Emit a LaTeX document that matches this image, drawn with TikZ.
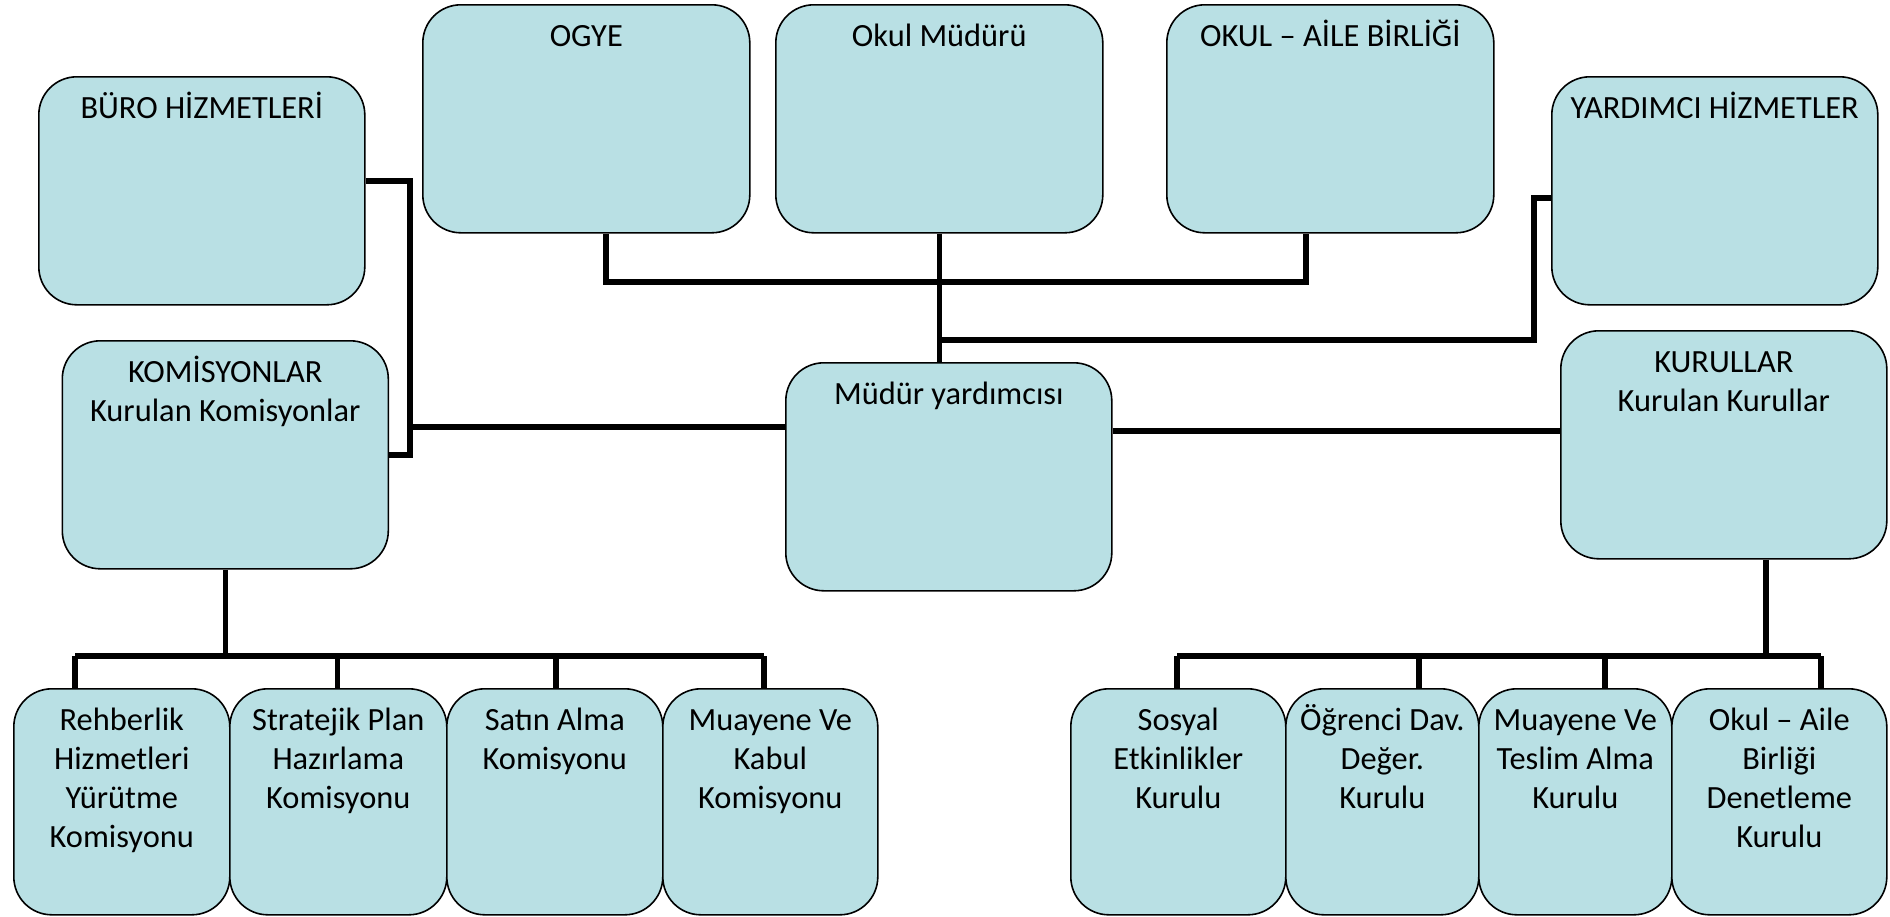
\documentclass[tikz,border=0pt]{standalone}
\usepackage{fontspec}
\setmainfont{Carlito}
\definecolor{boxblue}{RGB}{185,224,228}

\tikzset{
  unit/.style={draw=black, line width=0.8pt, fill=boxblue, rounded corners=19pt,
    anchor=north west, inner sep=0pt},
  wide/.style={unit, minimum width=163pt, minimum height=114pt},
  toptext/.style={anchor=north, yshift=-7.5pt, inner sep=0pt, align=center,
    font=\fontsize{16.2}{19.5}\selectfont},
  uptext/.style={label={[toptext]north:\strut #1}},
  link/.style={line width=2.7pt}
}

\begin{document}
\begin{tikzpicture}[x=0.5pt, y=-0.5pt]
  \useasboundingbox (0,0) rectangle (1890,916);

  % upper row
  \node[wide, uptext={BÜRO HİZMETLERİ}] (buro) at (38,76) {};
  \node[wide, minimum width=163.5pt, uptext={OGYE}] (ogye) at (422,4) {};
  \node[wide, minimum width=163.5pt, uptext={Okul Müdürü}] (mudur) at (775,4) {};
  \node[wide, minimum width=163.5pt, uptext={OKUL – AİLE BİRLİĞİ}] (aile) at (1166,4) {};
  \node[wide, uptext={YARDIMCI HİZMETLER}] (yard) at (1551,76) {};

  % middle row
  \node[wide, uptext={KOMİSYONLAR\\Kurulan Komisyonlar}] (komis) at (61.5,340) {};
  \node[wide, uptext={Müdür yardımcısı}] (mudy) at (785,362) {};
  \node[wide, uptext={KURULLAR\\Kurulan Kurullar}] (kurul) at (1560,330) {};

  % komisyonlar
  \node[unit, minimum width=108pt, minimum height=113pt,
    uptext={Rehberlik\\Hizmetleri\\Yürütme\\Komisyonu}] (rehber) at (13,688) {};
  \node[unit, minimum width=108.5pt, minimum height=113pt,
    uptext={Stratejik Plan\\Hazırlama\\Komisyonu}] (strat) at (229,688) {};
  \node[unit, minimum width=108pt, minimum height=113pt,
    uptext={Satın Alma\\Komisyonu}] (satin) at (446,688) {};
  \node[unit, minimum width=107.5pt, minimum height=113pt,
    uptext={Muayene Ve\\Kabul\\Komisyonu}] (kabul) at (662,688) {};

  % kurullar
  \node[unit, minimum width=107.5pt, minimum height=113pt,
    uptext={Sosyal\\Etkinlikler\\Kurulu}] (sosyal) at (1070,688) {};
  \node[unit, minimum width=96.5pt, minimum height=113pt,
    uptext={Öğrenci Dav.\\Değer.\\Kurulu}] (ogrenci) at (1285,688) {};
  \node[unit, minimum width=96.5pt, minimum height=113pt,
    uptext={Muayene Ve\\Teslim Alma\\Kurulu}] (teslim) at (1478,688) {};
  \node[unit, minimum width=107.5pt, minimum height=113pt,
    uptext={Okul – Aile\\Birliği\\Denetleme\\Kurulu}] (denet) at (1671,688) {};

  % junctions
  \coordinate (bmiddle) at (410,427);
  \coordinate (o1middle) at (606,282);
  \coordinate (o2middle) at (1306,282);
  \coordinate (ymiddle) at (1534,340);
  \coordinate (kmiddle) at ([yshift=7pt]kurul.west);
  \coordinate (l1middle) at (75,656);
  \coordinate (l2middle) at (337.5,656);
  \coordinate (l3middle) at (556,656);
  \coordinate (l4middle) at (764,656);
  \coordinate (rtop) at (1766,656);
  \coordinate (r1middle) at (1177,656);
  \coordinate (r2middle) at (1419,656);
  \coordinate (r3middle) at (1605,656);
  \coordinate (r4middle) at (1821,656);

  % top connectors
  \draw[link] (ogye.south -| o1middle) -- (o1middle) -- (o2middle) -- (aile.south -| o2middle);
  \draw[link] (mudur.south) -- (mudur.south |- mudy.north);
  \draw[link] (mudur.south |- ymiddle) -- (ymiddle) |- ([yshift=-3.5pt]yard.west);
  \draw[link] ([yshift=5pt]buro.east) -| (bmiddle) |- (komis.east);
  \draw[link] (bmiddle) -- (mudy.west |- bmiddle);
  \draw[link] (mudy.east |- kmiddle) -- (kmiddle);

  % komisyonlar connectors
  \draw[link] (komis.south) -- (komis.south |- l1middle);
  \draw[link] (l1middle) -- (l4middle);
  \draw[link] (l1middle) -- (l1middle |- rehber.north);
  \draw[link] (l2middle) -- (l2middle |- strat.north);
  \draw[link] (l3middle) -- (l3middle |- satin.north);
  \draw[link] (l4middle) -- (l4middle |- kabul.north);

  % kurullar connectors
  \draw[link] (kurul.south -| rtop) -- (rtop);
  \draw[link] (r1middle) -- (r4middle);
  \draw[link] (r1middle) -- (r1middle |- sosyal.north);
  \draw[link] (r2middle) -- (r2middle |- ogrenci.north);
  \draw[link] (r3middle) -- (r3middle |- teslim.north);
  \draw[link] (r4middle) -- (r4middle |- denet.north);
\end{tikzpicture}
\end{document}
